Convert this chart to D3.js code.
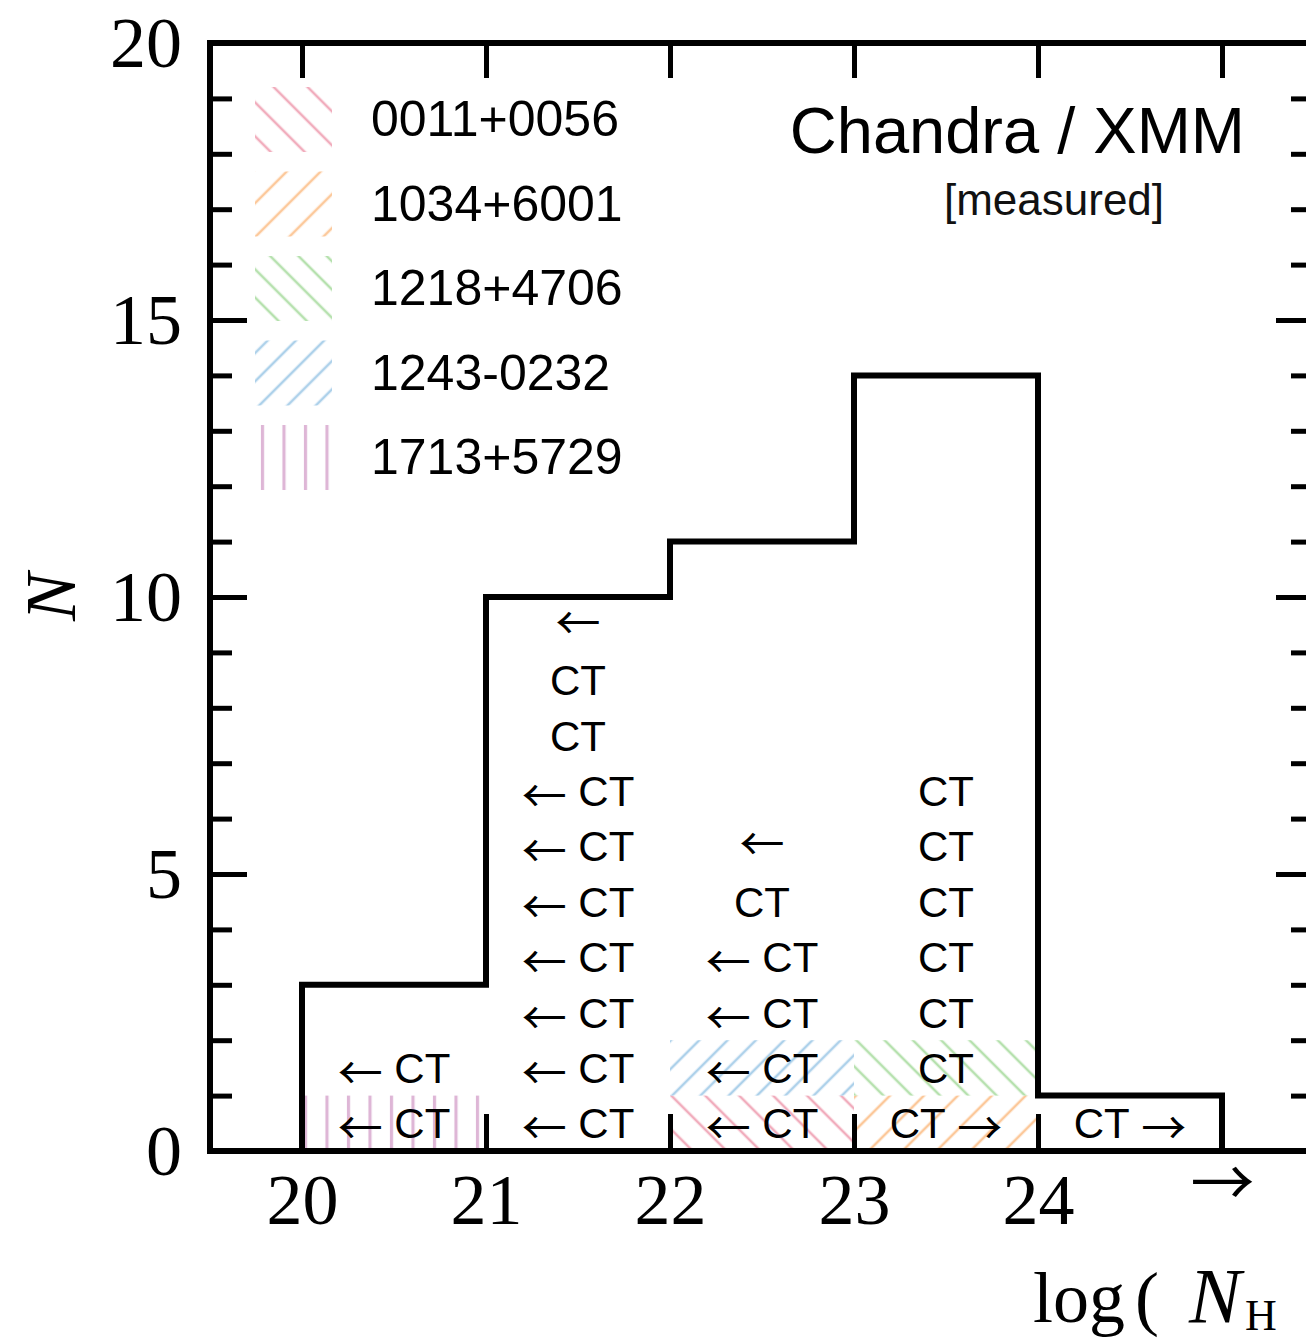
<!DOCTYPE html>
<html>
<head>
<meta charset="utf-8">
<script src="https://cdn.jsdelivr.net/npm/d3@7"></script>
<style>
  body { margin: 0; background: #fff; }
  svg { display: block; }
  .tick text { font-family: "Liberation Serif", serif; font-size: 72px; fill: #000; }
  .ct { font-family: "Liberation Sans", Arial, sans-serif; font-size: 42px; fill: #000; }
  .arrow { font-family: "Noto Sans CJK JP", "DejaVu Sans", sans-serif; font-size: 45px; }
  .legend text { font-family: "Liberation Sans", Arial, sans-serif; font-size: 50px; fill: #000; }
</style>
</head>
<body>
<svg id="chart" width="1306" height="1338"></svg>
<script>
// bins of log(NH), left edges
const binLefts = [20, 21, 22, 23, 24];
const binTotals = [3, 10, 11, 14, 1];

// fields that are hatched (counts per bin)
const fieldNames = ["0011+0056", "1034+6001", "1218+4706", "1243-0232", "1713+5729"];
const field0011 = [0, 0, 1, 0, 0];
const field1034 = [0, 0, 0, 1, 0];
const field1218 = [0, 0, 0, 1, 0];
const field1243 = [0, 0, 1, 0, 0];
const field1713 = [1, 0, 0, 0, 0];
const fieldColors = ["#ef9fb2", "#fcbf88", "#a9dca0", "#9fc9e6", "#d9a9cf"];

// source notes per bin, from bottom row upwards
const binNotes = [
    ["← CT", "← CT"],
    ["← CT", "← CT", "← CT", "← CT", "← CT", "← CT", "← CT", "CT", "CT", "←"],
    ["← CT", "← CT", "← CT", "← CT", "CT", "←"],
    ["CT →", "CT", "CT", "CT", "CT", "CT", "CT"],
    ["CT →"]
];

const xTicks = [20, 21, 22, 23, 24, 25];
const xTickLabels = ["20", "21", "22", "23", "24", "→"];
const yMajor = [0, 5, 10, 15, 20];

const svg = d3.select("#chart");
const x = d3.scaleLinear().domain([19.5, 25.5]).range([210, 1314]);
const y = d3.scaleLinear().domain([0, 20]).range([1151, 43]);

// hatch patterns
const defs = svg.append("defs");
const hatch = [
    {angle: -45, gap: 24, off: 0},   // "\" red
    {angle: 45, gap: 24, off: 0},    // "/" orange
    {angle: -45, gap: 20, off: 0},   // "\" green
    {angle: 45, gap: 20, off: 0},    // "/" blue
    {angle: 0, gap: 21.5, off: 4.5}  // vertical purple
];
hatch.forEach((h, i) => {
    const p = defs.append("pattern")
        .attr("id", "hatch" + i)
        .attr("patternUnits", "userSpaceOnUse")
        .attr("width", h.gap).attr("height", h.gap)
        .attr("patternTransform", "rotate(" + h.angle + ")");
    const lx = h.off || h.gap / 2;
    p.append("line")
        .attr("x1", lx).attr("x2", lx)
        .attr("y1", 0).attr("y2", h.gap)
        .attr("stroke", fieldColors[i])
        .attr("stroke-opacity", 0.85)
        .attr("stroke-width", i == 4 ? 3.2 : 2.6);
});

// stacked hatched blocks
const fieldTable = binLefts.map((b, i) => ({
    left: b,
    "0011+0056": field0011[i], "1034+6001": field1034[i], "1218+4706": field1218[i],
    "1243-0232": field1243[i], "1713+5729": field1713[i]
}));
const stacked = d3.stack().keys(fieldNames)(fieldTable);

svg.append("g").selectAll("g")
    .data(stacked)
    .enter().append("g")
        .attr("fill", (d, i) => "url(#hatch" + i + ")")
    .selectAll("rect")
    .data(d => d.filter(s => s[1] > s[0]))
    .enter().append("rect")
        .attr("x", d => x(d.data.left))
        .attr("width", d => x(d.data.left + 1) - x(d.data.left))
        .attr("y", d => y(d[1]))
        .attr("height", d => y(d[0]) - y(d[1]));

// histogram outline
const pts = [[binLefts[0], 0]];
binLefts.forEach((b, i) => { pts.push([b, binTotals[i]]); pts.push([b + 1, binTotals[i]]); });
pts.push([binLefts[binLefts.length - 1] + 1, 0]);
svg.append("path")
    .datum(pts)
    .attr("d", d3.line().x(d => x(d[0])).y(d => y(d[1])))
    .attr("fill", "none")
    .attr("stroke", "#000")
    .attr("stroke-width", 6)
    .attr("stroke-linejoin", "miter");

// CT notes
const notes = svg.append("g");
binNotes.forEach((col, i) => {
    col.forEach((s, k) => {
        const t = notes.append("text")
            .attr("class", "ct")
            .attr("text-anchor", "middle")
            .attr("x", x(binLefts[i] + 0.5))
            .attr("y", y(k + 0.5) + 15);
        const toks = s.split(" ");
        let shift = 0;
        toks.forEach((tok, j) => {
            if (j > 0) t.append("tspan").text("\u00a0");
            const ts = t.append("tspan").text(tok);
            const isArrow = (tok == "←" || tok == "→");
            if (isArrow) ts.attr("class", "arrow");
            // arrows next to CT sit a bit lower
            const want = (isArrow && toks.length > 1) ? 7 : 0;
            if (want != shift) { ts.attr("dy", want - shift); shift = want; }
        });
    });
});

// axes, ticks pointing inwards
function styleAxis(g) {
    g.select(".domain").remove();
    g.selectAll(".tick line").attr("stroke", "#000").attr("stroke-width", 5);
}
svg.append("g").attr("transform", "translate(" + x(19.5) + ",0)")
    .call(d3.axisLeft(y).tickValues(d3.range(0, 21)).tickSize(-22).tickFormat(""))
    .call(styleAxis);
svg.append("g").attr("transform", "translate(" + x(19.5) + ",0)")
    .call(d3.axisLeft(y).tickValues(yMajor).tickSize(-37).tickPadding(28))
    .call(styleAxis);
svg.append("g").attr("transform", "translate(" + x(25.5) + ",0)")
    .call(d3.axisRight(y).tickValues(d3.range(0, 21)).tickSize(-23).tickFormat(""))
    .call(styleAxis);
svg.append("g").attr("transform", "translate(" + x(25.5) + ",0)")
    .call(d3.axisRight(y).tickValues(yMajor).tickSize(-38).tickFormat(""))
    .call(styleAxis);
const xAxis = svg.append("g").attr("transform", "translate(0," + y(0) + ")")
    .call(d3.axisBottom(x).tickValues(xTicks).tickSize(-37).tickPadding(22)
        .tickFormat((d, i) => xTickLabels[i]))
    .call(styleAxis);
// the overflow arrow sits higher and larger than the digits
xAxis.selectAll(".tick text")
    .filter(d => xTickLabels[xTicks.indexOf(d)] == "→")
    .style("font-family", "'Noto Sans CJK JP', 'DejaVu Sans', sans-serif")
    .style("font-size", "64px")
    .attr("dy", null)
    .attr("y", 55);
svg.append("g").attr("transform", "translate(0," + y(20) + ")")
    .call(d3.axisTop(x).tickValues(xTicks).tickSize(-35).tickFormat(""))
    .call(styleAxis);

// frame
svg.append("rect")
    .attr("x", x(19.5)).attr("y", y(20))
    .attr("width", x(25.5) - x(19.5)).attr("height", y(0) - y(20))
    .attr("fill", "none").attr("stroke", "#000").attr("stroke-width", 6);

// legend
const legend = svg.append("g").attr("class", "legend");
fieldNames.forEach((n, i) => {
    const cy = 120 + i * 84.5;
    legend.append("rect")
        .attr("x", 255).attr("y", cy - 33)
        .attr("width", 77).attr("height", 65)
        .attr("fill", "url(#hatch" + i + ")");
    legend.append("text")
        .attr("x", 371).attr("y", cy + 16)
        .text(n);
});

// title
svg.append("text")
    .attr("x", 1245).attr("y", 153)
    .attr("text-anchor", "end")
    .style("font-family", "Liberation Sans, Arial, sans-serif")
    .style("font-size", "65px")
    .text("Chandra / XMM");
svg.append("text")
    .attr("x", 1054).attr("y", 215)
    .attr("text-anchor", "middle")
    .style("font-family", "Liberation Sans, Arial, sans-serif")
    .style("font-size", "44px")
    .style("font-weight", 300)
    .attr("fill", "#111")
    .text("[measured]");

// axis titles
svg.append("text")
    .attr("transform", "translate(75,597) rotate(-90)")
    .attr("text-anchor", "middle")
    .style("font-family", "Liberation Serif, serif")
    .style("font-style", "italic")
    .style("font-size", "72px")
    .text("N");

const xl = svg.append("text")
    .attr("x", 1033).attr("y", 1322)
    .style("font-family", "Liberation Serif, serif")
    .style("font-size", "72px");
xl.append("tspan").text("log");
xl.append("tspan").attr("dx", 10).text("(");
xl.append("tspan").attr("dx", 30).style("font-style", "italic").style("font-size", "78px").text("N");
xl.append("tspan").attr("dy", 8).attr("dx", 4).style("font-size", "44px").text("H");
</script>
</body>
</html>
